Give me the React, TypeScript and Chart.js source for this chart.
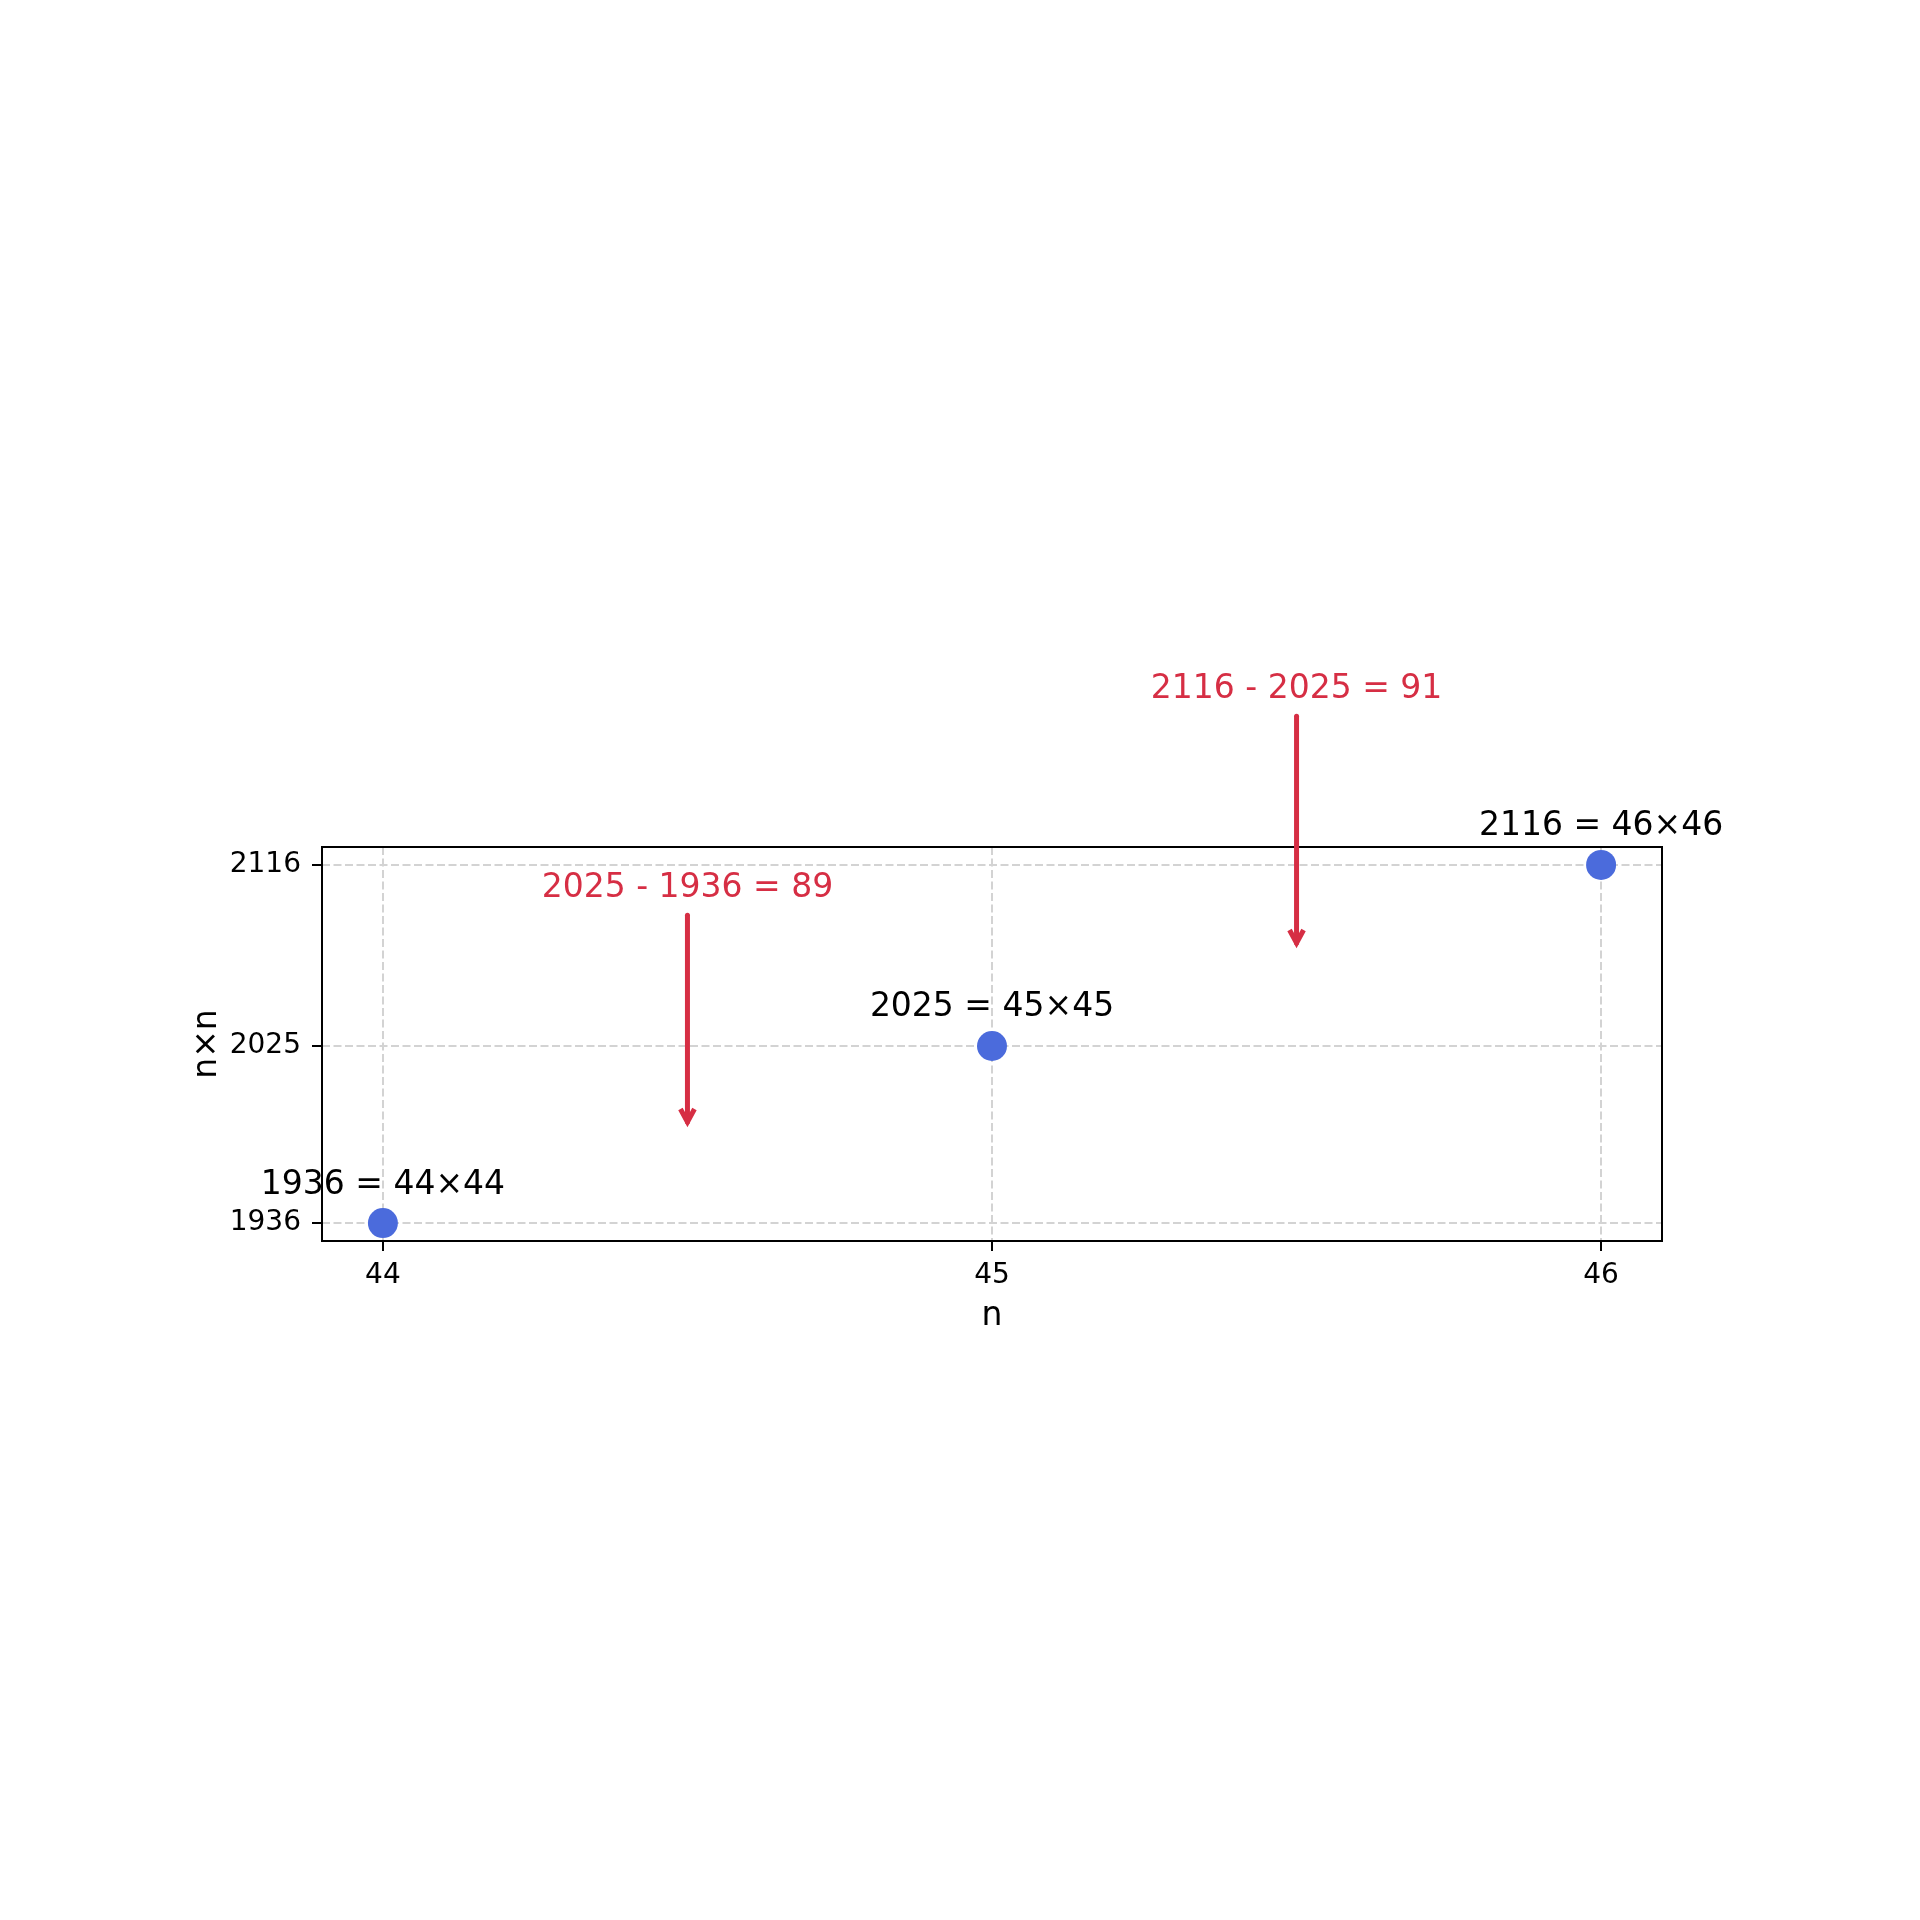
import React, { useEffect, useRef } from "react";
import { Chart, registerables } from "chart.js";

Chart.register(...registerables);

const nValues = [44, 45, 46];
const squares = [1936, 2025, 2116];
const pointLabels = ["1936 = 44×44", "2025 = 45×45", "2116 = 46×46"];
const diffX = [44.5, 45.5];
const diffTextY = [2100, 2200];
const diffTipY = [1980.5, 2070.5];
const diffLabels = ["2025 - 1936 = 89", "2116 - 2025 = 91"];
const xTicks = [44, 45, 46];
const yTicks = [1936, 2025, 2116];

const FONT = "'DejaVu Sans', 'Liberation Sans', sans-serif";
const BLUE = "#4b6bdc";
const RED = "#d62e44";
const GRID = "#d3d3d3";

const overlayPlugin = {
  id: "overlay",
  afterDraw(chart: any) {
    const { ctx, chartArea, scales } = chart;
    const xs = scales.x;
    const ys = scales.y;
    ctx.save();
    // frame
    ctx.strokeStyle = "#000";
    ctx.lineWidth = 2;
    ctx.setLineDash([]);
    ctx.strokeRect(chartArea.left, chartArea.top, chartArea.right - chartArea.left, chartArea.bottom - chartArea.top);

    // point labels
    ctx.font = `33px ${FONT}`;
    ctx.fillStyle = "#000";
    ctx.textAlign = "center";
    ctx.textBaseline = "alphabetic";
    for (let i = 0; i < nValues.length; i++) {
      const px = xs.getPixelForValue(nValues[i]);
      const py = ys.getPixelForValue(squares[i]);
      ctx.fillText(pointLabels[i], px, py - 29.5);
    }

    // difference annotations
    for (let i = 0; i < diffX.length; i++) {
      const px = xs.getPixelForValue(diffX[i]);
      const ty = ys.getPixelForValue(diffTextY[i]);
      const tip = ys.getPixelForValue(diffTipY[i]) - 12.5;
      ctx.fillStyle = RED;
      ctx.fillText(diffLabels[i], px, ty);
      ctx.strokeStyle = RED;
      ctx.lineWidth = 5;
      ctx.lineCap = "round";
      ctx.beginPath();
      ctx.moveTo(px, ty + 18.5);
      ctx.lineTo(px, tip);
      ctx.stroke();
      ctx.lineCap = "butt";
      ctx.lineJoin = "miter";
      ctx.beginPath();
      ctx.moveTo(px - 7, tip - 13);
      ctx.lineTo(px, tip);
      ctx.lineTo(px + 7, tip - 13);
      ctx.stroke();
    }
    ctx.restore();
  },
};

export default function App() {
  const ref = useRef<HTMLCanvasElement | null>(null);
  useEffect(() => {
    if (!ref.current) return;
    const chart = new Chart(ref.current, {
      type: "scatter",
      data: {
        datasets: [
          {
            data: nValues.map((n, i) => ({ x: n, y: squares[i] })),
            pointRadius: 15,
            pointHoverRadius: 15,
            pointBackgroundColor: BLUE,
            pointBorderWidth: 0,
            showLine: false,
            clip: false,
          } as any,
        ],
      },
      options: {
        animation: false,
        responsive: false,
        devicePixelRatio: 1,
        events: [],
        layout: { padding: { top: 847, right: 258, left: 0, bottom: 0 } },
        plugins: { legend: { display: false }, tooltip: { enabled: false } },
        scales: {
          x: {
            type: "linear",
            min: 43.9,
            max: 46.1,
            afterBuildTicks: (s: any) => {
              s.ticks = xTicks.map((v) => ({ value: v }));
            },
            afterFit: (s: any) => {
              s.height = 679;
            },
            ticks: {
              callback: (v: any) => String(v),
              font: { family: FONT, size: 28 },
              color: "#000",
              padding: 8,
              maxRotation: 0,
              autoSkip: false,
            },
            grid: {
              color: GRID,
              lineWidth: 2,
              drawTicks: true,
              tickLength: 10,
              tickColor: "#000",
              tickWidth: 2,
              tickBorderDash: [],
            } as any,
            border: { display: false, dash: [8, 3.5] },
            title: {
              display: true,
              text: "n",
              font: { family: FONT, size: 33 },
              color: "#000",
              padding: { top: 0, bottom: 584 },
            },
          },
          y: {
            type: "linear",
            min: 1927,
            max: 2125,
            afterBuildTicks: (s: any) => {
              s.ticks = yTicks.map((v) => ({ value: v }));
            },
            afterFit: (s: any) => {
              s.width = 322;
            },
            ticks: {
              callback: (v: any) => String(v),
              font: { family: FONT, size: 28 },
              color: "#000",
              padding: 11,
              autoSkip: false,
            },
            grid: {
              color: GRID,
              lineWidth: 2,
              drawTicks: true,
              tickLength: 10,
              tickColor: "#000",
              tickWidth: 2,
              tickBorderDash: [],
            } as any,
            border: { display: false, dash: [8, 3.5] },
            title: {
              display: true,
              text: "n×n",
              font: { family: FONT, size: 33 },
              color: "#000",
              padding: { top: 188, bottom: 0 },
            },
          },
        },
      },
      plugins: [overlayPlugin],
    });
    return () => chart.destroy();
  }, []);
  return (
    <div style={{ position: "absolute", left: 0, top: 0, width: 1920, height: 1920, background: "#fff" }}>
      <canvas ref={ref} width={1920} height={1920} style={{ width: 1920, height: 1920 }} />
    </div>
  );
}
